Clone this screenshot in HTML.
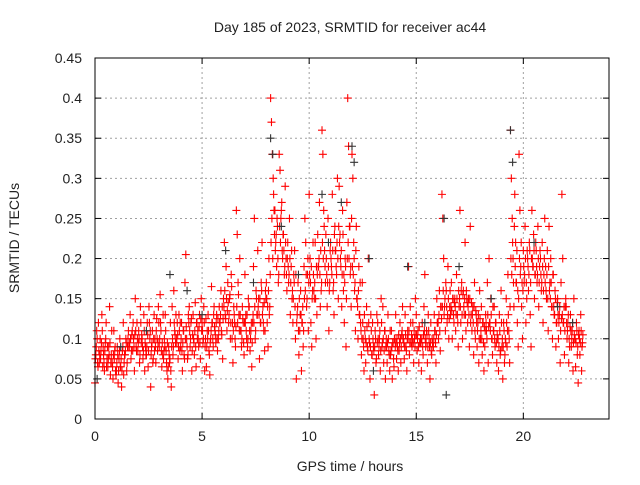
<!DOCTYPE html>
<html><head><meta charset="utf-8"><style>
body{margin:0;background:#fff}
svg text{font-family:"Liberation Sans",sans-serif;font-size:14px;fill:#222}
</style></head><body>
<svg id="chart" width="640" height="480" xmlns="http://www.w3.org/2000/svg">
<text x="350" y="32" text-anchor="middle">Day 185 of 2023, SRMTID for receiver ac44</text>
<text x="350" y="471" text-anchor="middle">GPS time / hours</text>
<text transform="translate(19,238) rotate(-90)" text-anchor="middle">SRMTID / TECUs</text>
<g id="grid"></g>
<g id="ticks"></g>
<g id="red"></g>
<g id="black"></g>
<rect x="95" y="58" width="514" height="361" fill="none" stroke="#000" stroke-width="1"/>
</svg>
<script>
const xTicks=[0,5,10,15,20];
const yTicks=[0,0.05,0.1,0.15,0.2,0.25,0.3,0.35,0.4,0.45];
const yTickLabels=["0","0.05","0.1","0.15","0.2","0.25","0.3","0.35","0.4","0.45"];
const redHours=[0,0.2,0.4,0.6,0.8,1.0,1.2,1.4,1.6,1.8,2.0,2.2,2.4,2.6,2.8,3.0,3.2,3.4,3.6,3.8,4.0,4.2,4.4,4.6,4.8,5.0,5.2,5.4,5.6,5.8,6.0,6.2,6.4,6.6,6.8,7.0,7.2,7.4,7.6,7.8,8.0,8.2,8.4,8.6,8.8,9.0,9.2,9.4,9.6,9.8,10.0,10.2,10.4,10.6,10.8,11.0,11.2,11.4,11.6,11.8,12.0,12.2,12.4,12.6,12.8,13.0,13.2,13.4,13.6,13.8,14.0,14.2,14.4,14.6,14.8,15.0,15.2,15.4,15.6,15.8,16.0,16.2,16.4,16.6,16.8,17.0,17.2,17.4,17.6,17.8,18.0,18.2,18.4,18.6,18.8,19.0,19.2,19.4,19.6,19.8,20.0,20.2,20.4,20.6,20.8,21.0,21.2,21.4,21.6,21.8,22.0,22.2,22.4,22.6];
const redValues=[
[.045,.08,.11,.07,.12],[.07,.10,.085,.13,.065],[.08,.06,.095,.12,.075],[.065,.09,.14,.055,.08],[.07,.05,.11,.085,.06],
[.06,.09,.045,.075,.10],[.065,.04,.085,.12,.07],[.08,.10,.06,.09,.11],[.09,.13,.075,.105,.085],[.10,.06,.15,.09,.12],
[.085,.11,.07,.14,.095],[.10,.075,.13,.06,.09],[.08,.12,.065,.14,.10],[.04,.09,.11,.075,.13],[.10,.07,.125,.085,.14],
[.09,.155,.11,.065,.08],[.075,.10,.13,.085,.06],[.05,.09,.07,.12,.04],[.14,.08,.16,.11,.095],[.10,.12,.075,.13,.085],
[.09,.12,.06,.11,.08],[.17,.205,.10,.075,.13],[.14,.09,.12,.06,.105],[.10,.08,.145,.065,.12],[.11,.09,.13,.075,.15],
[.12,.095,.14,.06,.10],[.065,.11,.13,.085,.055],[.10,.165,.12,.09,.14],[.11,.095,.13,.085,.10],[.14,.12,.16,.105,.075],
[.15,.22,.13,.19,.11],[.17,.12,.15,.10,.18],[.10,.07,.14,.12,.09],[.26,.23,.17,.13,.20],[.11,.09,.14,.12,.08],
[.18,.13,.10,.09,.15],[.14,.085,.11,.065,.12],[.19,.25,.10,.16,.13],[.21,.15,.075,.12,.17],[.22,.14,.11,.085,.16],
[.17,.12,.09,.20,.14],[.40,.37,.33,.30,.26],[.26,.22,.19,.24,.17],[.33,.31,.25,.27,.20],[.23,.18,.29,.20,.16],
[.22,.17,.25,.13,.19],[.15,.12,.18,.21,.10],[.05,.13,.17,.08,.11],[.16,.06,.12,.09,.19],[.25,.22,.14,.18,.11],
[.28,.20,.12,.09,.16],[.18,.15,.22,.10,.13],[.23,.19,.27,.14,.16],[.36,.33,.26,.21,.17],[.20,.14,.25,.11,.17],
[.22,.19,.28,.16,.13],[.24,.21,.18,.30,.15],[.29,.23,.19,.14,.26],[.16,.12,.20,.09,.27],[.40,.34,.24,.18,.14],
[.33,.30,.22,.16,.11],[.24,.15,.10,.19,.13],[.12,.08,.17,.10,.06],[.11,.07,.14,.09,.20],[.10,.05,.13,.08,.12],
[.09,.03,.11,.07,.13],[.12,.08,.10,.06,.15],[.09,.14,.07,.11,.05],[.10,.07,.13,.085,.06],[.08,.11,.05,.095,.065],
[.10,.13,.075,.09,.06],[.085,.12,.07,.105,.14],[.10,.075,.13,.09,.06],[.11,.19,.08,.14,.095],[.09,.12,.07,.10,.15],
[.13,.085,.11,.07,.095],[.10,.06,.12,.08,.14],[.18,.09,.11,.07,.13],[.10,.05,.12,.08,.095],[.09,.13,.11,.07,.15],
[.12,.10,.16,.085,.14],[.28,.25,.20,.14,.11],[.16,.12,.19,.10,.14],[.13,.17,.10,.15,.12],[.15,.11,.18,.13,.09],
[.14,.26,.12,.17,.10],[.16,.13,.22,.11,.15],[.12,.15,.09,.24,.13],[.11,.14,.08,.17,.10],[.13,.09,.12,.07,.16],
[.10,.14,.08,.12,.06],[.09,.13,.11,.17,.07],[.20,.12,.15,.10,.08],[.11,.14,.09,.12,.07],[.10,.06,.13,.08,.16],
[.09,.05,.12,.07,.10],[.15,.09,.18,.11,.07],[.36,.30,.25,.20,.14],[.28,.22,.17,.12,.09],[.33,.26,.19,.14,.10],
[.21,.17,.24,.12,.15],[.20,.16,.22,.13,.09],[.26,.19,.23,.15,.18],[.21,.17,.24,.14,.19],[.20,.16,.22,.12,.18],
[.25,.19,.15,.21,.11],[.24,.17,.20,.14,.10],[.18,.13,.16,.09,.12],[.15,.10,.13,.07,.17],[.28,.20,.12,.08,.14],
[.14,.10,.12,.07,.09],[.13,.09,.11,.06,.15],[.10,.065,.12,.08,.045],[.11,.08,.13,.06,.095]];
const redValues2=[
[.075,.09,.10,.065,.085],[.08,.075,.095,.11,.09],[.07,.085,.10,.065,.09],[.075,.08,.095,.07,.11],[.065,.08,.075,.09,.055],
[.07,.08,.06,.085,.065],[.075,.06,.09,.055,.08],[.085,.095,.07,.10,.09],[.095,.10,.085,.11,.12],[.09,.105,.11,.085,.10],
[.095,.10,.08,.12,.105],[.09,.085,.11,.095,.08],[.09,.105,.085,.12,.11],[.08,.095,.07,.10,.085],[.09,.11,.10,.095,.12],
[.10,.12,.085,.095,.13],[.085,.09,.11,.07,.095],[.065,.08,.075,.06,.09],[.10,.09,.12,.105,.13],[.095,.105,.09,.11,.12],
[.10,.085,.095,.11,.075],[.10,.115,.09,.08,.12],[.11,.10,.125,.085,.13],[.095,.11,.09,.12,.10],[.10,.115,.095,.125,.11],
[.11,.10,.12,.09,.125],[.09,.10,.11,.08,.095],[.11,.12,.10,.13,.115],[.105,.12,.10,.125,.11],[.12,.13,.11,.14,.125],
[.14,.16,.125,.15,.135],[.145,.13,.155,.12,.165],[.12,.11,.13,.10,.115],[.14,.12,.155,.11,.13],[.11,.10,.125,.095,.12],
[.12,.11,.13,.10,.14],[.11,.10,.12,.095,.13],[.12,.14,.11,.15,.13],[.14,.13,.15,.12,.16],[.13,.12,.145,.11,.15],
[.15,.14,.16,.13,.18],[.22,.25,.20,.28,.23],[.21,.23,.25,.20,.18],[.24,.22,.26,.21,.23],[.21,.19,.22,.18,.20],
[.19,.18,.20,.17,.21],[.16,.15,.17,.14,.18],[.12,.14,.11,.15,.13],[.13,.12,.14,.11,.15],[.16,.18,.15,.20,.17],
[.18,.17,.19,.15,.22],[.16,.17,.15,.19,.18],[.19,.20,.18,.21,.17],[.22,.20,.24,.19,.23],[.18,.17,.19,.16,.21],
[.20,.18,.21,.17,.23],[.21,.19,.22,.20,.24],[.22,.20,.21,.18,.23],[.18,.17,.19,.15,.20],[.22,.20,.24,.19,.25],
[.19,.18,.20,.17,.21],[.15,.14,.16,.13,.17],[.11,.10,.12,.09,.13],[.10,.095,.115,.085,.12],[.095,.09,.11,.08,.10],
[.085,.09,.10,.075,.095],[.10,.09,.11,.085,.12],[.095,.10,.085,.11,.09],[.09,.095,.10,.08,.11],[.085,.09,.095,.075,.10],
[.09,.095,.10,.085,.105],[.095,.10,.09,.11,.10],[.095,.09,.105,.085,.10],[.10,.11,.095,.12,.105],[.10,.095,.11,.09,.105],
[.105,.10,.09,.115,.095],[.095,.10,.09,.105,.11],[.10,.095,.105,.09,.11],[.09,.095,.085,.10,.09],[.10,.11,.095,.105,.12],
[.12,.13,.11,.14,.125],[.14,.16,.13,.15,.17],[.14,.13,.15,.125,.16],[.14,.135,.15,.13,.145],[.14,.13,.15,.12,.16],
[.15,.14,.16,.13,.155],[.14,.15,.13,.16,.145],[.14,.13,.15,.12,.145],[.13,.12,.14,.11,.135],[.12,.11,.13,.10,.125],
[.11,.10,.12,.095,.115],[.11,.12,.10,.13,.115],[.12,.11,.13,.10,.14],[.11,.10,.12,.095,.105],[.10,.09,.11,.085,.12],
[.10,.09,.11,.08,.095],[.12,.11,.13,.10,.14],[.20,.18,.22,.17,.24],[.19,.17,.21,.16,.15],[.20,.18,.22,.17,.16],
[.19,.18,.20,.17,.21],[.19,.18,.21,.17,.20],[.20,.19,.21,.18,.22],[.19,.18,.20,.17,.21],[.18,.17,.19,.16,.20],
[.17,.16,.18,.15,.19],[.16,.15,.17,.14,.18],[.14,.13,.15,.12,.145],[.13,.12,.14,.11,.125],[.13,.12,.14,.11,.15],
[.12,.11,.13,.10,.115],[.11,.10,.12,.095,.105],[.10,.095,.11,.09,.105],[.10,.095,.11,.09,.105]];
const blackHours=[0.1,1.2,2.4,3.5,4.3,5.0,6.1,7.4,8.2,8.3,8.7,9.5,10.6,10.9,11.5,12.0,12.1,12.8,13.0,14.6,15.4,16.4,16.3,17.0,18.5,19.4,19.5,20.5,21.6,22.3];
const blackValues=[.05,.09,.11,.18,.16,.13,.21,.17,.35,.33,.24,.18,.28,.22,.27,.34,.32,.20,.06,.19,.12,.03,.25,.19,.15,.36,.32,.22,.14,.12];

const NS="http://www.w3.org/2000/svg";
const X0=95,X1=609,Y0=419,Y1=58;
function xs(h){return X0+(h/24)*(X1-X0);}
function ys(v){return Y0-(v/0.45)*(Y0-Y1);}
function mk(tag,attrs,parent){const e=document.createElementNS(NS,tag);for(const k in attrs)e.setAttribute(k,attrs[k]);parent.appendChild(e);return e;}
const grid=document.getElementById('grid'),ticks=document.getElementById('ticks');
xTicks.forEach(t=>{
  const x=xs(t);
  if(t>0){const g=mk('line',{x1:x,x2:x,y1:Y0,y2:Y1,stroke:'#a0a0a0','stroke-dasharray':'2,3'},grid);
  
  }
  const l=mk('text',{x:x,y:Y0+22,'text-anchor':'middle'},ticks);l.textContent=t;
  
  
  mk('line',{x1:x,x2:x,y1:Y0,y2:Y0-6,stroke:'#000'},ticks);
  mk('line',{x1:x,x2:x,y1:Y1,y2:Y1+6,stroke:'#000'},ticks);
});
yTicks.forEach((t,i)=>{
  const y=ys(t);
  if(t>0&&t<0.45){const g=mk('line',{x1:X0,x2:X1,y1:y,y2:y,stroke:'#a0a0a0','stroke-dasharray':'2,3'},grid);
  
  }
  const l=mk('text',{x:X0-13,y:y+5,'text-anchor':'end'},ticks);l.textContent=yTickLabels[i];
  
  
  mk('line',{x1:X0,x2:X0+6,y1:y,y2:y,stroke:'#000'},ticks);
  mk('line',{x1:X1,x2:X1-6,y1:y,y2:y,stroke:'#000'},ticks);
});
function plus(x,y,color,parent){
  return mk('path',{d:`M${x-4},${y}H${x+4}M${x},${y-4}V${y+4}`,stroke:color,'stroke-width':1.1,fill:'none'},parent);
}
const red=document.getElementById('red'),black=document.getElementById('black');
redHours.forEach((h,i)=>{
  redValues[i].forEach((v,k)=>{
    const p=plus(xs(h+k*0.04),ys(v),'#f00',red);
    
    
  });
  redValues2[i].forEach((v,k)=>{
    const p=plus(xs(h+0.02+k*0.04),ys(v),'#f00',red);
    
    
  });
});
blackHours.forEach((h,i)=>{
  const p=plus(xs(h),ys(blackValues[i]),'#333',black);
  
  
});
</script>
</body></html>
